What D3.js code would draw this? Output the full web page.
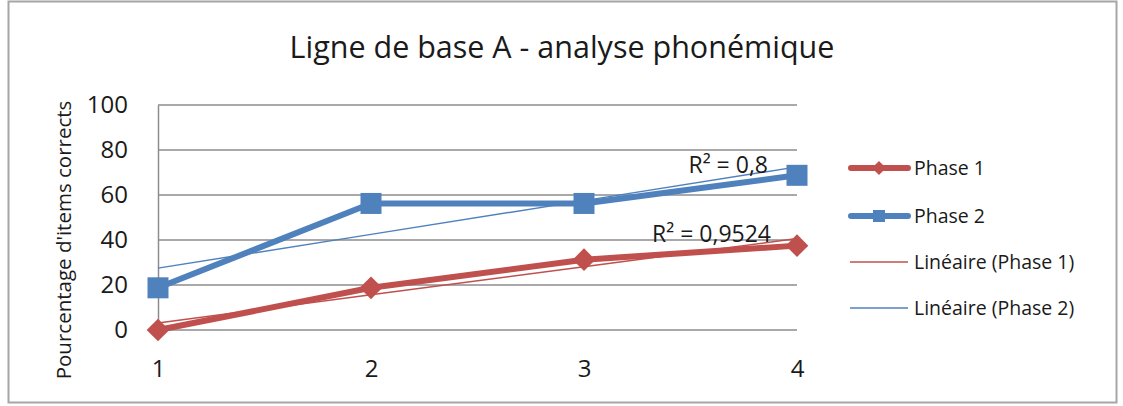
<!DOCTYPE html>
<html><head><meta charset="utf-8">
<script src="https://cdn.jsdelivr.net/npm/d3@7"></script>
<style>html,body{margin:0;padding:0;background:#fff;}svg{display:block;}</style>
</head><body>
<svg id="c" width="1123" height="406"></svg>
<script>
const categories = [1, 2, 3, 4];
const phase1 = [0, 18.75, 31.25, 37.5];
const phase2 = [18.75, 56.25, 56.25, 68.75];
const yTicks = [0, 20, 40, 60, 80, 100];
const r2Labels = ["R² = 0,9524", "R² = 0,8"];
const title = "Ligne de base A - analyse phonémique";
const yTitle = "Pourcentage d'items corrects";
const legendLabels = ["Phase 1", "Phase 2", "Linéaire (Phase 1)", "Linéaire (Phase 2)"];

const RED = "#C0504D", BLUE = "#4F81BD";
const FONT = "'Open Sans', sans-serif";
const TXT = "#1a1a1a";
const svg = d3.select("#c");

svg.append("rect").attr("x", 8.5).attr("y", 1.5).attr("width", 1108).attr("height", 401)
  .attr("fill", "#fff").attr("stroke", "#a6a6a6").attr("stroke-width", 2);

const x = d3.scaleLinear().domain([1, 4]).range([158, 797]);
const y = d3.scaleLinear().domain([0, 100]).range([330, 105]);

// title
svg.append("text").attr("x", 562).attr("y", 58).attr("text-anchor", "middle")
  .attr("font-family", FONT).attr("font-size", 30.5).attr("fill", TXT).text(title);

// gridlines
svg.append("g").selectAll("line").data(yTicks).join("line")
  .attr("x1", 158).attr("x2", 797).attr("y1", d => y(d)).attr("y2", d => y(d))
  .attr("stroke", "#8c8c8c").attr("stroke-width", 1.5);

// y axis
const yAxis = d3.axisLeft(y).tickValues(yTicks).tickSize(0).tickPadding(30);
const gy = svg.append("g").attr("transform", "translate(158,0)").call(yAxis);
gy.select(".domain").attr("stroke", "#8c8c8c").attr("stroke-width", 1.5);
gy.selectAll("text").attr("font-family", FONT).attr("font-size", 24).attr("fill", TXT);

// x axis
const xAxis = d3.axisBottom(x).tickValues(categories).tickSize(0).tickPadding(0).tickFormat(d3.format("d"));
const gx = svg.append("g").attr("transform", "translate(0,330)").call(xAxis);
gx.select(".domain").remove();
gx.selectAll("text").attr("font-family", FONT).attr("font-size", 24).attr("fill", TXT)
  .attr("dy", null).attr("y", 47);

// y title
svg.append("text").attr("transform", "translate(71,240) rotate(-90)").attr("text-anchor", "middle")
  .attr("font-family", FONT).attr("font-size", 20.5).attr("fill", TXT).text(yTitle);

// regression
function linreg(vals) {
  const xs = categories;
  const mx = d3.mean(xs), my = d3.mean(vals);
  let sxy = 0, sxx = 0;
  xs.forEach((xi, i) => { sxy += (xi - mx) * (vals[i] - my); sxx += (xi - mx) ** 2; });
  const b = sxy / sxx, a = my - b * mx;
  return xs.map(xi => a + b * xi);
}
const line = d3.line().x((d, i) => x(categories[i])).y(d => y(d));

function drawSeries(vals, color, marker) {
  svg.append("path").attr("d", line(vals)).attr("fill", "none").attr("stroke", color)
    .attr("stroke-width", 6).attr("stroke-linejoin", "round");
  const g = svg.append("g");
  vals.forEach((v, i) => {
    const cx = x(categories[i]), cy = y(v);
    if (marker === "diamond") {
      g.append("rect").attr("x", -8).attr("y", -8).attr("width", 16).attr("height", 16)
        .attr("transform", `translate(${cx},${cy}) rotate(45)`).attr("fill", color);
    } else {
      g.append("rect").attr("x", cx - 10.5).attr("y", cy - 10.5).attr("width", 21).attr("height", 21).attr("fill", color);
    }
  });
}
function drawTrend(vals, color) {
  const t = linreg(vals);
  svg.append("path").attr("d", line(t)).attr("fill", "none").attr("stroke", color).attr("stroke-width", 1.5);
}

drawSeries(phase1, RED, "diamond");
drawTrend(phase1, RED);
drawSeries(phase2, BLUE, "square");
drawTrend(phase2, BLUE);

// R2 labels
svg.append("text").attr("x", 771).attr("y", 242).attr("text-anchor", "end")
  .attr("font-family", FONT).attr("font-size", 23).attr("fill", TXT).text(r2Labels[0]);
svg.append("text").attr("x", 768).attr("y", 173).attr("text-anchor", "end")
  .attr("font-family", FONT).attr("font-size", 23).attr("fill", TXT).text(r2Labels[1]);

// legend
const legY = [168, 216, 262, 308];
const lg = svg.append("g");
legendLabels.forEach((lab, i) => {
  const color = i % 2 === 0 ? RED : BLUE;
  const yy = legY[i];
  if (i < 2) {
    lg.append("line").attr("x1", 851).attr("x2", 908).attr("y1", yy).attr("y2", yy)
      .attr("stroke", color).attr("stroke-width", 6).attr("stroke-linecap", "round");
    if (i === 0) lg.append("rect").attr("x", -5).attr("y", -5).attr("width", 10).attr("height", 10)
      .attr("transform", `translate(879,${yy}) rotate(45)`).attr("fill", color);
    else lg.append("rect").attr("x", 873).attr("y", yy - 6).attr("width", 12).attr("height", 12).attr("fill", color);
  } else {
    lg.append("line").attr("x1", 850).attr("x2", 908).attr("y1", yy).attr("y2", yy)
      .attr("stroke", color).attr("stroke-width", 1.5);
  }
  lg.append("text").attr("x", 914).attr("y", yy + 7).attr("font-family", FONT).attr("font-size", 19.5).attr("fill", TXT).text(lab);
});
</script>
</body></html>
